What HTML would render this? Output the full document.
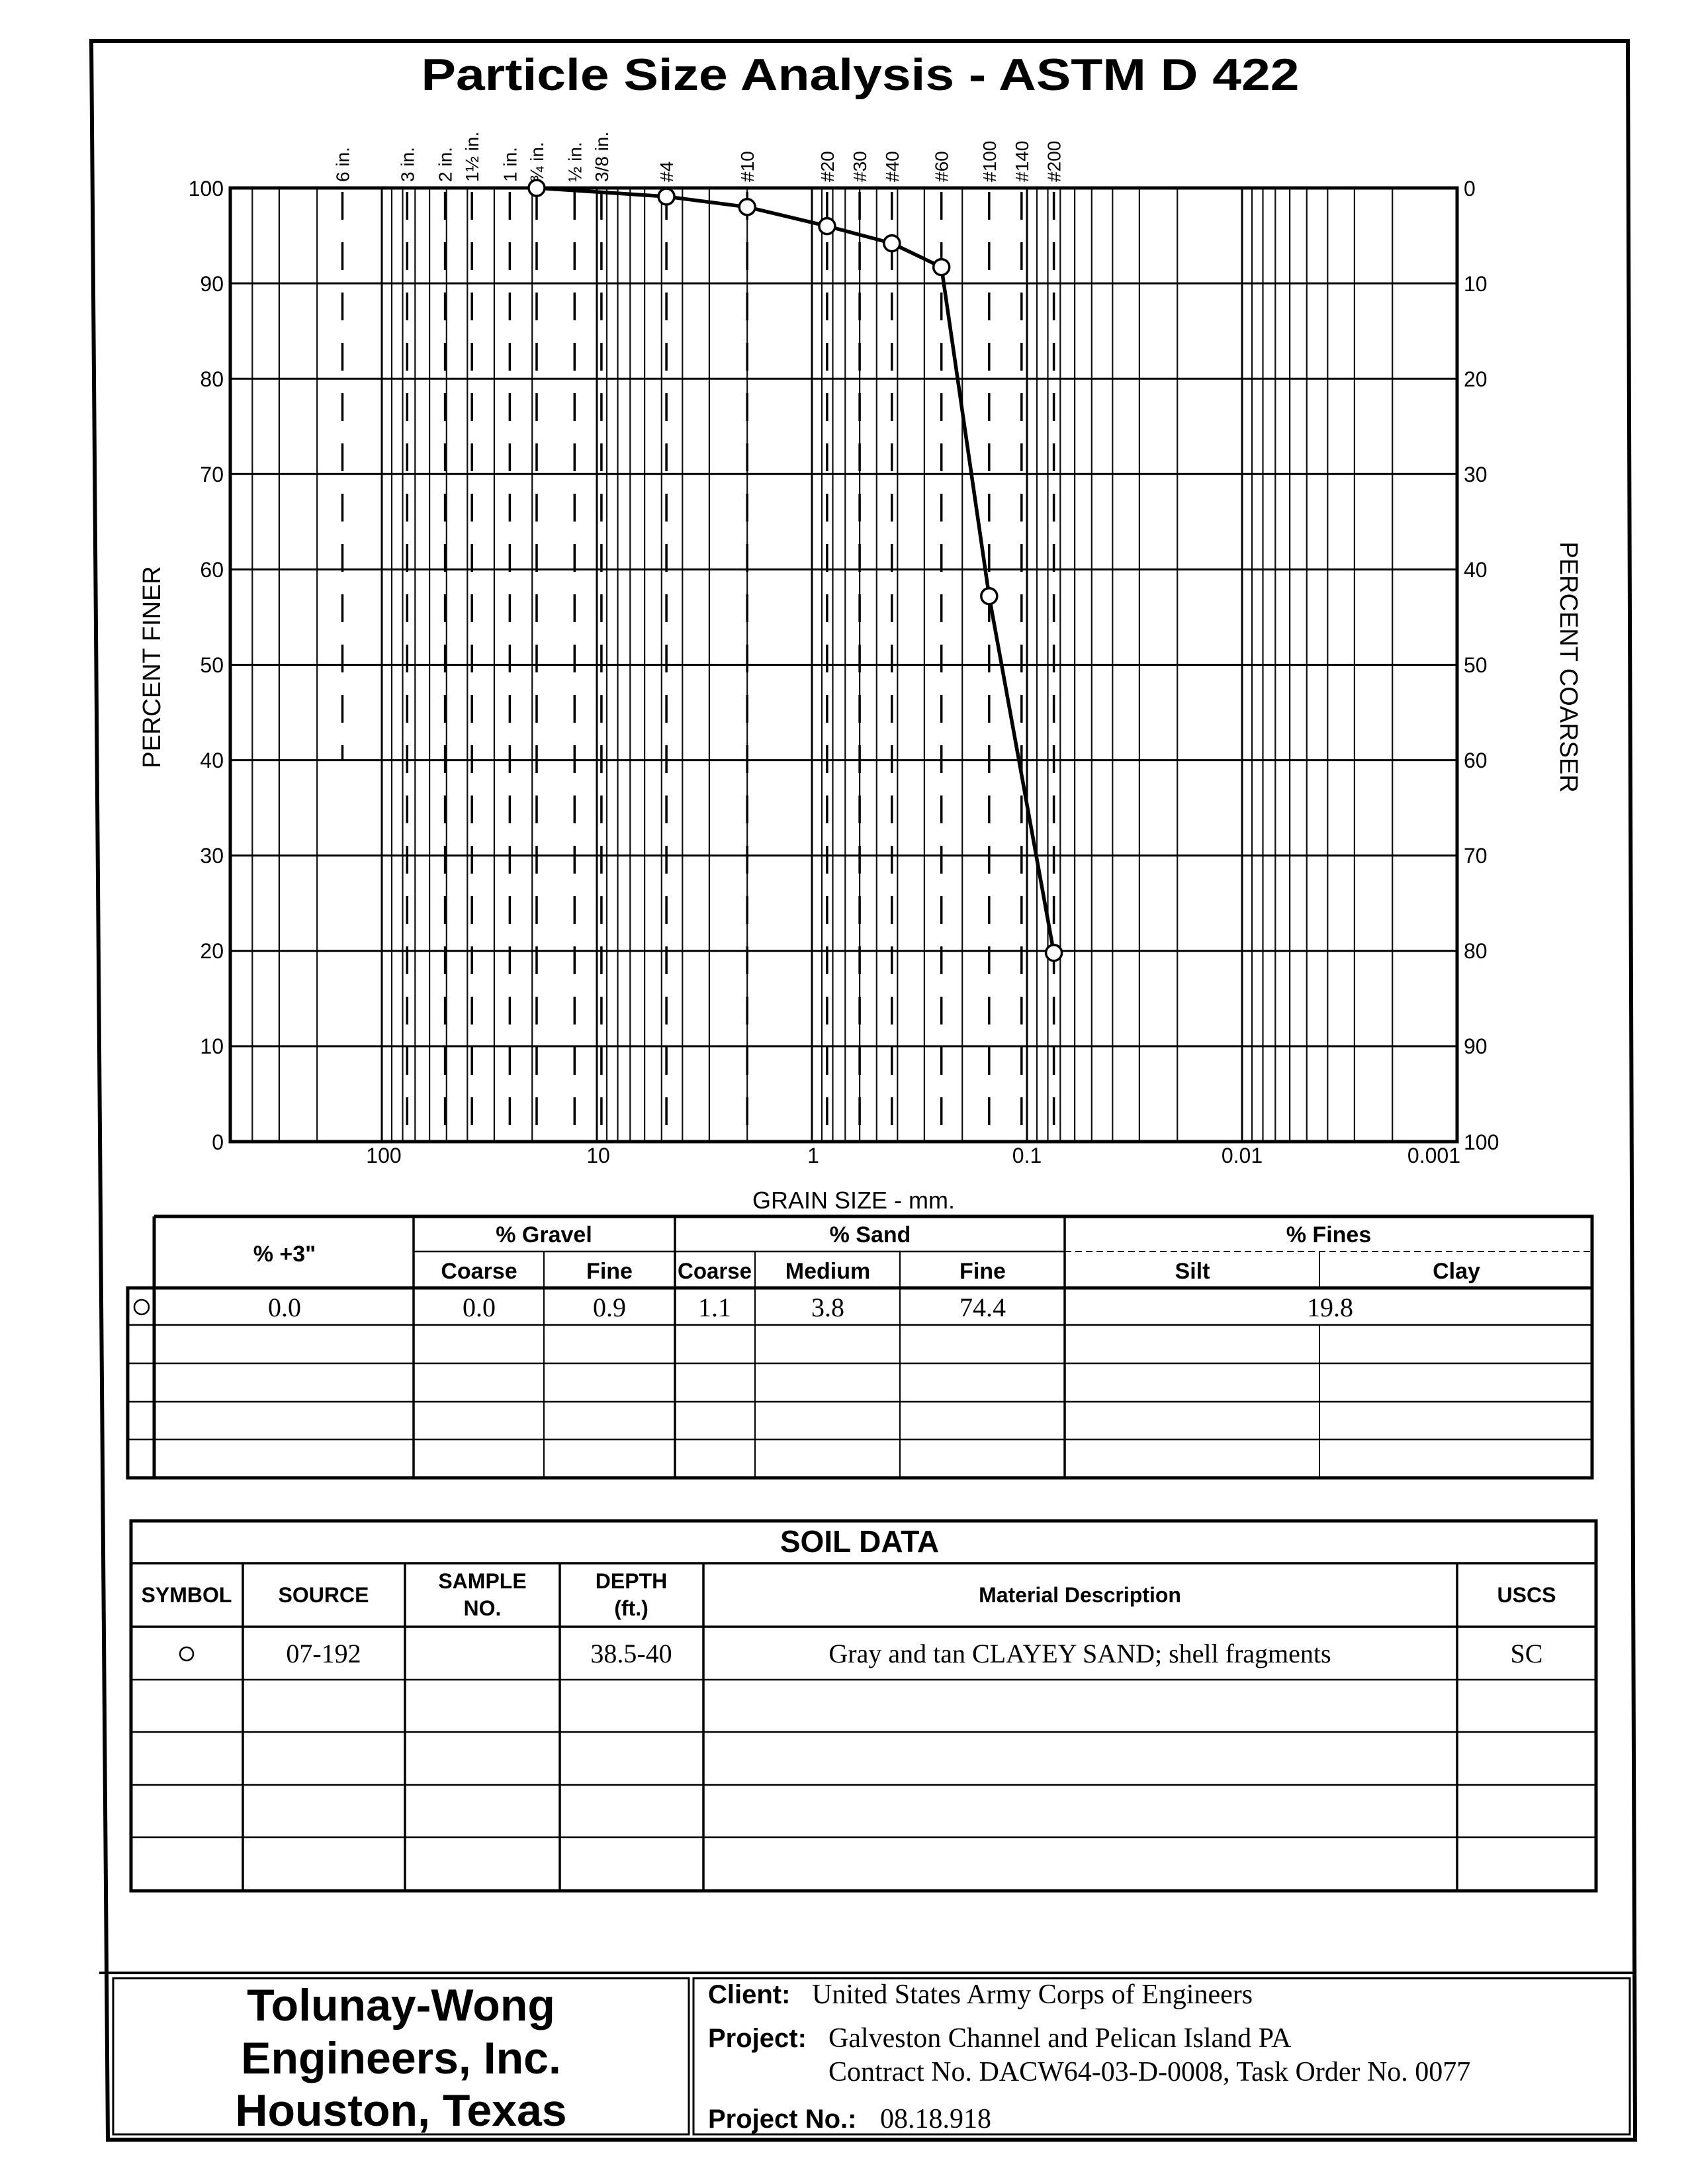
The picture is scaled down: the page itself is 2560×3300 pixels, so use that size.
<!DOCTYPE html>
<html><head><meta charset="utf-8"><style>
html,body{margin:0;padding:0;background:#fff;}
svg{display:block;}
.s{font-family:"Liberation Sans",sans-serif;}
.b{font-family:"Liberation Sans",sans-serif;font-weight:bold;}
.r{font-family:"Liberation Serif",serif;}
</style></head><body>
<svg width="2560" height="3300" viewBox="0 0 2560 3300" xmlns="http://www.w3.org/2000/svg">
<rect width="2560" height="3300" fill="#fff"/>
<!-- outer frame -->
<polygon points="138,62 2460,62 2471,3233 163,3233" fill="none" stroke="#000" stroke-width="6"/>
<text x="1300" y="136" class="b" font-size="68" text-anchor="middle" textLength="1327" lengthAdjust="spacingAndGlyphs">Particle Size Analysis - ASTM D 422</text>

<!-- grid -->
<g stroke="#111" stroke-width="2.2">
<path d="M2104.2 284V1725M2046.9 284V1725M2006.3 284V1725M1974.8 284V1725M1949.1 284V1725M1927.3 284V1725M1908.5 284V1725M1892 284V1725
M1779.2 284V1725M1721.9 284V1725M1681.3 284V1725M1649.8 284V1725M1624.1 284V1725M1602.3 284V1725M1583.5 284V1725M1567 284V1725
M1454.2 284V1725M1396.9 284V1725M1356.3 284V1725M1324.8 284V1725M1299.1 284V1725M1277.3 284V1725M1258.5 284V1725M1242 284V1725
M1129.2 284V1725M1071.9 284V1725M1031.3 284V1725M999.8 284V1725M974.1 284V1725M952.3 284V1725M933.5 284V1725M917 284V1725
M804.2 284V1725M746.9 284V1725M706.3 284V1725M674.8 284V1725M649.1 284V1725M627.3 284V1725M608.5 284V1725M592 284V1725
M479.2 284V1725M421.9 284V1725M381.3 284V1725"/>
</g>
<g stroke="#000" stroke-width="3">
<path d="M577 284V1725M902 284V1725M1227 284V1725M1552 284V1725M1877 284V1725"/>
<path d="M348 428.1H2202M348 572.2H2202M348 716.3H2202M348 860.4H2202M348 1004.5H2202M348 1148.6H2202M348 1292.7H2202M348 1436.8H2202M348 1580.9H2202"/>
</g>
<g stroke="#000" stroke-width="3.5" stroke-dasharray="42,34">
<path d="M517.5 290V1150"/>
<path d="M615.3 290V1725M672.6 290V1725M713.2 290V1725M770.4 290V1725M811 290V1725M868.3 290V1725M908.9 290V1725M1007.1 290V1725M1129.2 290V1725M1249.9 290V1725M1299.1 290V1725M1347.8 290V1725M1422.7 290V1725M1494.8 290V1725M1543.8 290V1725M1592.6 290V1725"/>
</g>
<rect x="348" y="284" width="1854" height="1441" fill="none" stroke="#000" stroke-width="5"/>

<!-- sieve labels -->
<g class="s" font-size="28" text-anchor="start">
<text transform="translate(527.5,275) rotate(-90)">6 in.</text>
<text transform="translate(625.3,275) rotate(-90)">3 in.</text>
<text transform="translate(682.6,275) rotate(-90)">2 in.</text>
<text transform="translate(723.2,275) rotate(-90)">1½ in.</text>
<text transform="translate(780.4,275) rotate(-90)">1 in.</text>
<text transform="translate(821,275) rotate(-90)">¾ in.</text>
<text transform="translate(878.3,275) rotate(-90)">½ in.</text>
<text transform="translate(918.9,275) rotate(-90)">3/8 in.</text>
<text transform="translate(1017.1,275) rotate(-90)">#4</text>
<text transform="translate(1139.2,275) rotate(-90)">#10</text>
<text transform="translate(1259.9,275) rotate(-90)">#20</text>
<text transform="translate(1309.1,275) rotate(-90)">#30</text>
<text transform="translate(1357.8,275) rotate(-90)">#40</text>
<text transform="translate(1432.7,275) rotate(-90)">#60</text>
<text transform="translate(1504.8,275) rotate(-90)">#100</text>
<text transform="translate(1553.8,275) rotate(-90)">#140</text>
<text transform="translate(1602.6,275) rotate(-90)">#200</text>
</g>

<!-- y labels -->
<g class="s" font-size="32" text-anchor="end">
<text x="338" y="296">100</text><text x="338" y="440">90</text><text x="338" y="584">80</text><text x="338" y="728">70</text><text x="338" y="872">60</text><text x="338" y="1016">50</text><text x="338" y="1160">40</text><text x="338" y="1304">30</text><text x="338" y="1448">20</text><text x="338" y="1592">10</text><text x="338" y="1737">0</text>
</g>
<g class="s" font-size="32">
<text x="2212" y="296">0</text><text x="2212" y="440">10</text><text x="2212" y="584">20</text><text x="2212" y="728">30</text><text x="2212" y="872">40</text><text x="2212" y="1016">50</text><text x="2212" y="1160">60</text><text x="2212" y="1304">70</text><text x="2212" y="1448">80</text><text x="2212" y="1592">90</text><text x="2212" y="1737">100</text>
</g>
<g class="s" font-size="32" text-anchor="middle">
<text x="580" y="1757">100</text><text x="904" y="1757">10</text><text x="1229" y="1757">1</text><text x="1552" y="1757">0.1</text><text x="1877" y="1757">0.01</text><text x="2207" y="1757" text-anchor="end">0.001</text>
<text x="1290" y="1826" font-size="36">GRAIN SIZE - mm.</text>
</g>
<text class="s" font-size="38" text-anchor="middle" transform="translate(242,1008) rotate(-90)">PERCENT FINER</text>
<text class="s" font-size="38" text-anchor="middle" transform="translate(2358,1008) rotate(90)">PERCENT COARSER</text>

<!-- data -->
<polyline points="811,284 1007.1,297 1129.2,312.8 1249.9,341.6 1347.8,367.6 1422.7,403.6 1494.8,900.7 1592.6,1439.7" fill="none" stroke="#000" stroke-width="5.5" stroke-linejoin="round"/>
<g fill="#fff" stroke="#000" stroke-width="3.5">
<circle cx="811" cy="284" r="12"/><circle cx="1007.1" cy="297" r="12"/><circle cx="1129.2" cy="312.8" r="12"/><circle cx="1249.9" cy="341.6" r="12"/><circle cx="1347.8" cy="367.6" r="12"/><circle cx="1422.7" cy="403.6" r="12"/><circle cx="1494.8" cy="900.7" r="12"/><circle cx="1592.6" cy="1439.7" r="12"/>
</g>

<!-- table 1 -->
<g stroke="#000" fill="none">
<path d="M233 1838H2406V2233H193V1946H2406" stroke-width="5"/>
<path d="M233 1838V2233" stroke-width="5"/>
<path d="M625 1891H1609" stroke-width="2.5"/>
<path d="M1609 1891H2406" stroke-width="2" stroke-dasharray="10,6"/>
<path d="M193 2002H2406M193 2060H2406M193 2118H2406M193 2175H2406" stroke-width="2.5"/>
<path d="M625 1838V2233M1020 1838V2233M1609 1838V2233" stroke-width="3.5"/>
<path d="M822 1891V2233M1141 1891V2233M1360 1891V2233" stroke-width="2"/>
<path d="M1994 1891V1946M1994 2002V2233" stroke-width="2"/>
</g>
<g class="b" font-size="34" text-anchor="middle">
<text x="430" y="1906">% +3"</text>
<text x="822" y="1877">% Gravel</text>
<text x="1315" y="1877">% Sand</text>
<text x="2008" y="1877">% Fines</text>
<text x="724" y="1932">Coarse</text>
<text x="921" y="1932">Fine</text>
<text x="1080" y="1932" textLength="112" lengthAdjust="spacingAndGlyphs">Coarse</text>
<text x="1251" y="1932">Medium</text>
<text x="1485" y="1932">Fine</text>
<text x="1802" y="1932">Silt</text>
<text x="2201" y="1932">Clay</text>
</g>
<circle cx="214" cy="1975" r="11" fill="none" stroke="#000" stroke-width="2.5"/>
<g class="r" font-size="40" text-anchor="middle">
<text x="430" y="1989">0.0</text><text x="724" y="1989">0.0</text><text x="921" y="1989">0.9</text><text x="1080" y="1989">1.1</text><text x="1251" y="1989">3.8</text><text x="1485" y="1989">74.4</text><text x="2010" y="1989">19.8</text>
</g>

<!-- table 2 -->
<g stroke="#000" fill="none">
<rect x="198" y="2298" width="2214" height="559" stroke-width="5"/>
<path d="M198 2362H2412M198 2458H2412" stroke-width="3.5"/>
<path d="M198 2538H2412M198 2617H2412M198 2697H2412M198 2776H2412" stroke-width="2.5"/>
<path d="M367 2362V2857M612 2362V2857M846 2362V2857M1063 2362V2857M2202 2362V2857" stroke-width="3.5"/>
</g>
<text x="1299" y="2345" class="b" font-size="46" text-anchor="middle">SOIL DATA</text>
<g class="b" font-size="32" text-anchor="middle">
<text x="282" y="2421">SYMBOL</text>
<text x="489" y="2421">SOURCE</text>
<text x="729" y="2400">SAMPLE</text><text x="729" y="2441">NO.</text>
<text x="954" y="2400">DEPTH</text><text x="954" y="2441">(ft.)</text>
<text x="1632" y="2421">Material Description</text>
<text x="2307" y="2421">USCS</text>
</g>
<g class="r" font-size="40" text-anchor="middle">
<circle cx="282" cy="2499" r="10" fill="none" stroke="#000" stroke-width="2.5"/>
<text x="489" y="2512">07-192</text>
<text x="954" y="2512">38.5-40</text>
<text x="1632" y="2512">Gray and tan CLAYEY SAND; shell fragments</text>
<text x="2307" y="2512">SC</text>
</g>

<!-- footer -->
<g stroke="#000" fill="none">
<path d="M150 2981H2468" stroke-width="4"/>
<rect x="171" y="2989" width="870" height="236" stroke-width="3"/>
<rect x="1048" y="2989" width="1415" height="236" stroke-width="3"/>
</g>
<g class="b" font-size="68" text-anchor="middle">
<text x="606" y="3053">Tolunay-Wong</text>
<text x="606" y="3133">Engineers, Inc.</text>
<text x="606" y="3212">Houston, Texas</text>
</g>
<g class="b" font-size="40">
<text x="1070" y="3027">Client:</text>
<text x="1070" y="3093">Project:</text>
<text x="1070" y="3215">Project No.:</text>
</g>
<g class="r" font-size="42">
<text x="1227" y="3027">United States Army Corps of Engineers</text>
<text x="1252" y="3093">Galveston Channel and Pelican Island PA</text>
<text x="1252" y="3144">Contract No. DACW64-03-D-0008, Task Order No. 0077</text>
<text x="1330" y="3215">08.18.918</text>
</g>
</svg>
</body></html>
